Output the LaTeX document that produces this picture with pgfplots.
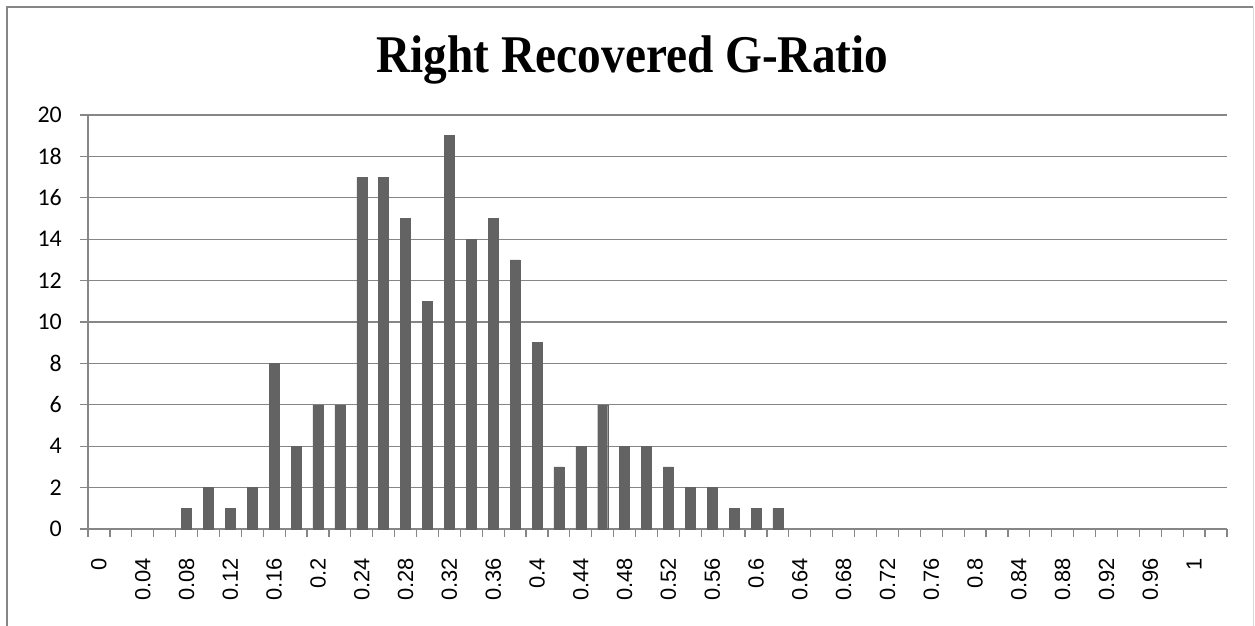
\documentclass[border=0pt]{standalone}
\usepackage{pgfplots}
\pgfplotsset{compat=1.18}
\usepackage{fontspec}
\usepackage{graphicx}
\setmainfont{Liberation Serif}
\newfontfamily\xfont{Liberation Sans}
\newfontfamily\yfont{Carlito}
\definecolor{bargray}{RGB}{99,99,99}
\definecolor{gridgray}{RGB}{134,134,134}
\definecolor{framelight}{RGB}{217,217,217}
\begin{document}
\begin{tikzpicture}
\path[use as bounding box] (0bp,0bp) rectangle (1255bp,626bp);
\draw[gridgray, line width=2bp] (7bp,0bp) -- (7bp,619bp) -- (1253bp,619bp);
\draw[framelight, line width=1bp] (1253bp,619bp) -- (1253bp,0bp);
\node[font=\fontsize{47.5}{57}\selectfont\bfseries, anchor=base, inner sep=0pt] at (632.5bp,553bp) {\scalebox{1}[1.12]{Right Recovered G-Ratio}};
\begin{axis}[
  at={(88bp,97bp)}, anchor=south west, scale only axis,
  width=1139bp, height=414bp,
  xmin=-0.5, xmax=51.5, ymin=0, ymax=20,
  axis lines*=left,
  axis line style={gridgray, line width=1.2bp},
  every tick/.style={gridgray, line width=1.2bp},
  tick align=outside,
  major tick length=8bp,
  ytick={0,2,4,6,8,10,12,14,16,18,20},
  yticklabels={0,2,4,6,8,10,12,14,16,18,20},
  yticklabel style={font=\yfont\fontsize{24}{24}\selectfont, inner sep=0pt, xshift=-18bp},
  ymajorgrids, grid style={gridgray, line width=1.2bp},
  xtick={-0.5,0.5,...,51.5},
  xticklabels={},
  extra x ticks={0,2,4,6,8,10,12,14,16,18,20,22,24,26,28,30,32,34,36,38,40,42,44,46,48,50},
  extra x tick labels={0,0.04,0.08,0.12,0.16,0.2,0.24,0.28,0.32,0.36,0.4,0.44,0.48,0.52,0.56,0.6,0.64,0.68,0.72,0.76,0.8,0.84,0.88,0.92,0.96,1},
  extra x tick style={major tick length=0pt, grid=none,
    xticklabel style={rotate=90, anchor=east, inner sep=0pt, xshift=-29bp, font=\xfont\fontsize{22}{22}\selectfont}},
  clip=false,
]
\addplot[ybar, bar width=10bp, fill=bargray, draw=bargray] coordinates {
 (4,1) (5,2) (6,1) (7,2) (8,8) (9,4) (10,6) (11,6) (12,17) (13,17)
 (14,15) (15,11) (16,19) (17,14) (18,15) (19,13) (20,9) (21,3) (22,4) (23,6)
 (24,4) (25,4) (26,3) (27,2) (28,2) (29,1) (30,1) (31,1)
};
\end{axis}
\end{tikzpicture}
\end{document}
